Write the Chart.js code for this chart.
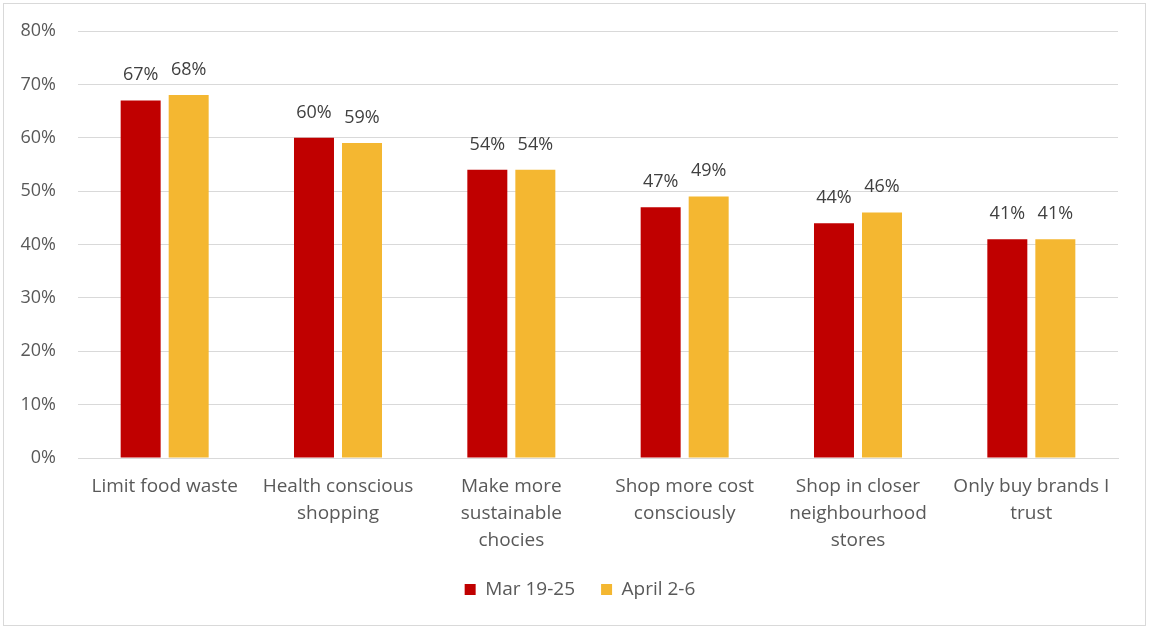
<!DOCTYPE html>
<html>
<head>
<meta charset="utf-8">
<script src="https://cdn.jsdelivr.net/npm/chart.js@4/dist/chart.umd.min.js"></script>
<style>
  html, body { margin: 0; padding: 0; background: #fff; }
  #frame { position: absolute; left: 3px; top: 3px; width: 1141px; height: 621px; border: 1px solid #d9d9d9; }
  #wrap { position: absolute; left: 0; top: 0; width: 1149px; height: 629px; }
</style>
</head>
<body>
<div id="frame"></div>
<div id="wrap"><canvas id="chart"></canvas></div>
<script>
const categories = [
  'Limit food waste',
  ['Health conscious', 'shopping'],
  ['Make more', 'sustainable', 'chocies'],
  ['Shop more cost', 'consciously'],
  ['Shop in closer', 'neighbourhood', 'stores'],
  ['Only buy brands I', 'trust']
];
const marValues = [67, 60, 54, 47, 44, 41];
const aprilValues = [68, 59, 54, 49, 46, 41];
const yTicks = [0, 10, 20, 30, 40, 50, 60, 70, 80];

Chart.defaults.color = '#595959';
Chart.defaults.font.family = "'Open Sans', sans-serif";
Chart.defaults.font.size = 18;

// value labels above each bar
const barLabels = {
  id: 'barLabels',
  afterDatasetsDraw(chart) {
    const ctx = chart.ctx;
    ctx.save();
    ctx.font = "18px 'Open Sans', sans-serif";
    ctx.fillStyle = '#404040';
    ctx.textAlign = 'center';
    ctx.textBaseline = 'alphabetic';
    chart.data.datasets.forEach((ds, i) => {
      chart.getDatasetMeta(i).data.forEach((bar, j) => {
        ctx.fillText(ds.data[j] + '%', bar.x, bar.y - 20);
      });
    });
    ctx.restore();
  }
};

// legend sits centred on the whole picture, not on the plot
const legendShift = {
  id: 'legendShift',
  afterLayout(chart) {
    chart.legend.left += 21;
    chart.legend.right += 21;
  }
};

new Chart(document.getElementById('chart'), {
  type: 'bar',
  data: {
    labels: categories,
    datasets: [
      { label: 'Mar 19-25', data: marValues, backgroundColor: '#c00000' },
      { label: 'April 2-6', data: aprilValues, backgroundColor: '#f4b731' }
    ]
  },
  options: {
    responsive: true,
    maintainAspectRatio: false,
    animation: false,
    categoryPercentage: 0.554,
    barPercentage: 0.833,
    layout: { padding: { left: 0, right: 31, top: 29, bottom: 20 } },
    plugins: {
      legend: {
        position: 'bottom',
        labels: { boxWidth: 11, boxHeight: 11, padding: 26, color: '#595959', font: { size: 19 } }
      },
      tooltip: { enabled: false }
    },
    scales: {
      x: {
        grid: { display: false },
        border: { color: '#d9d9d9' },
        ticks: { color: '#595959', maxRotation: 0, padding: 7, font: { size: 19, lineHeight: 1.42 } },
        afterFit: s => { s.height = 96; }
      },
      y: {
        min: 0,
        max: 80,
        afterBuildTicks: s => { s.ticks = yTicks.map(v => ({ value: v })); },
        ticks: { callback: v => v + '%', padding: 22, color: '#595959', font: { size: 18, lineHeight: 1 } },
        grid: { color: '#d9d9d9', drawTicks: false },
        border: { display: false },
        afterFit: s => { s.width = 78; }
      }
    }
  },
  plugins: [barLabels, legendShift]
});
</script>
</body>
</html>
